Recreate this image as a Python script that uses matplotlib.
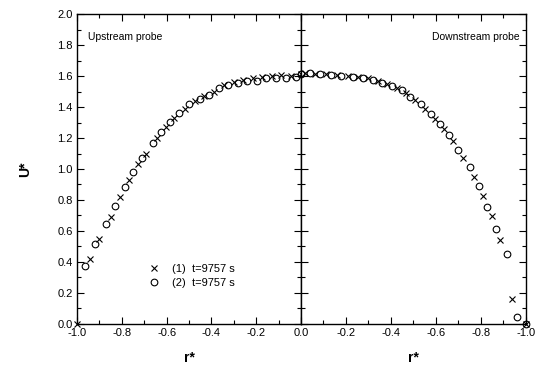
import matplotlib
matplotlib.use("Agg")
import matplotlib.pyplot as plt
from matplotlib.ticker import MultipleLocator, FuncFormatter

plt.rcParams["font.family"] = ["Liberation Sans", "DejaVu Sans"]

# upstream probe, series (1) x markers
up_r1 = [-1.0, -0.941, -0.90, -0.847, -0.806, -0.767, -0.73, -0.69, -0.645, -0.605,
         -0.565, -0.52, -0.475, -0.432, -0.39, -0.345, -0.30, -0.26, -0.215, -0.175,
         -0.13, -0.09, -0.045, 0.0]
up_u1 = [0.0, 0.42, 0.55, 0.688, 0.817, 0.93, 1.03, 1.10, 1.20, 1.27,
         1.33, 1.39, 1.44, 1.47, 1.50, 1.54, 1.56, 1.575, 1.585, 1.595,
         1.60, 1.605, 1.60, 1.61]
# upstream probe, series (2) o markers
up_r2 = [-0.963, -0.921, -0.871, -0.831, -0.788, -0.752, -0.71, -0.662, -0.624, -0.587,
         -0.545, -0.50, -0.453, -0.413, -0.364, -0.324, -0.28, -0.24, -0.195, -0.157,
         -0.112, -0.068, -0.024]
up_u2 = [0.374, 0.516, 0.643, 0.763, 0.886, 0.983, 1.07, 1.17, 1.24, 1.305,
         1.36, 1.42, 1.45, 1.48, 1.52, 1.545, 1.555, 1.565, 1.57, 1.585,
         1.585, 1.59, 1.595]

# downstream probe
dn_r1 = [-0.018, -0.062, -0.11, -0.158, -0.207, -0.255, -0.30, -0.341, -0.381, -0.425,
         -0.465, -0.507, -0.551, -0.596, -0.636, -0.677, -0.72, -0.77, -0.807, -0.848,
         -0.883, -0.936, -1.0]
dn_u1 = [1.617, 1.615, 1.615, 1.606, 1.60, 1.594, 1.585, 1.565, 1.548, 1.524,
         1.49, 1.445, 1.39, 1.32, 1.255, 1.18, 1.07, 0.95, 0.826, 0.697,
         0.542, 0.16, 0.0]
dn_r2 = [0.0, -0.04, -0.084, -0.133, -0.18, -0.233, -0.277, -0.321, -0.361, -0.403,
         -0.447, -0.484, -0.532, -0.576, -0.618, -0.66, -0.70, -0.75, -0.79, -0.828,
         -0.867, -0.917, -0.958, -1.0]
dn_u2 = [1.61, 1.617, 1.613, 1.606, 1.60, 1.596, 1.59, 1.574, 1.557, 1.535,
         1.51, 1.467, 1.42, 1.355, 1.29, 1.22, 1.12, 1.01, 0.89, 0.757,
         0.61, 0.45, 0.043, 0.0]

labels = ["(1)  t=9757 s", "(2)  t=9757 s"]


def style_axis(ax):
    ax.set_ylim(0, 2.0)
    ax.yaxis.set_major_locator(MultipleLocator(0.2))
    ax.yaxis.set_minor_locator(MultipleLocator(0.1))
    ax.xaxis.set_major_locator(MultipleLocator(0.2))
    ax.xaxis.set_minor_locator(MultipleLocator(0.1))
    ax.tick_params(which="both", direction="in", top=True, right=True,
                   labelsize=8, width=0.8, pad=3)
    ax.tick_params(which="major", length=5)
    ax.tick_params(which="minor", length=3)
    for s in ax.spines.values():
        s.set_linewidth(1.0)
    ax.xaxis.set_major_formatter(FuncFormatter(lambda v, p: "%.1f" % v))
    ax.yaxis.set_major_formatter(FuncFormatter(lambda v, p: "%.1f" % v))


fig = plt.figure(figsize=(5.39, 3.69), dpi=100)
ax1 = fig.add_axes([0.1429, 0.122, 0.4156, 0.840])
ax2 = fig.add_axes([0.5584, 0.122, 0.4174, 0.840])

mk = dict(color="black", linestyle="none", markersize=4.8, markeredgewidth=0.8,
          clip_on=False)
ax1.plot(up_r1, up_u1, marker="x", label=labels[0], **mk)
ax1.plot(up_r2, up_u2, marker="o", markerfacecolor="none", label=labels[1], **mk)
ax2.plot(dn_r1, dn_u1, marker="x", **mk)
ax2.plot(dn_r2, dn_u2, marker="o", markerfacecolor="none", **mk)

style_axis(ax1)
style_axis(ax2)
ax1.set_xlim(-1.0, 0.0)
ax2.set_xlim(0.0, -1.0)
ax1.xaxis.set_major_formatter(FuncFormatter(lambda v, p: "" if abs(v) < 1e-9 else "%.1f" % v))
ax2.tick_params(labelleft=False)

ax1.set_ylabel("U*", fontsize=10, fontweight="bold", labelpad=18)
ax1.set_xlabel("r*", fontsize=10, fontweight="bold", labelpad=9)
ax2.set_xlabel("r*", fontsize=10, fontweight="bold", labelpad=9)

ax1.text(0.05, 0.925, "Upstream probe", transform=ax1.transAxes, fontsize=7.5, va="center")
ax2.text(0.97, 0.925, "Downstream probe", transform=ax2.transAxes, fontsize=7.5,
         va="center", ha="right")

ax1.legend(loc="lower left", bbox_to_anchor=(0.26, 0.09), frameon=False, fontsize=8,
           handletextpad=0.6, labelspacing=0.4, borderpad=0.2)

fig.savefig("out.png", dpi=100)
